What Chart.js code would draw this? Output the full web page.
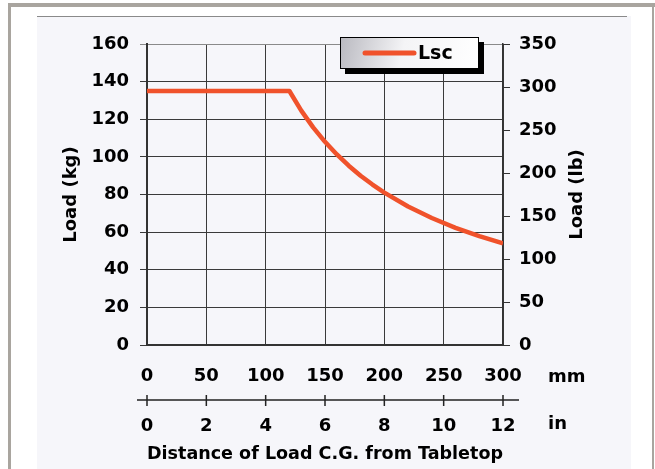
<!DOCTYPE html>
<html>
<head>
<meta charset="utf-8">
<script src="https://cdn.jsdelivr.net/npm/chart.js@4.4.1/dist/chart.umd.min.js"></script>
<style>
  html, body { margin: 0; padding: 0; background: #fff; }
  #wrap { width: 655px; height: 469px; }
</style>
</head>
<body>
<div id="wrap"><canvas id="chart" width="655" height="469"></canvas></div>
<script>
// distance of load C.G. (mm) and rated load (kg)
const distMm = [0, 120, 130, 140, 150, 160, 170, 180, 190, 200, 220, 240, 260, 280, 300];
const loadKg = [135, 135, 124.6, 115.7, 108, 101.3, 95.3, 90, 85.3, 81, 73.6, 67.5, 62.3, 57.9, 54];
const seriesName = "Lsc";
const kgTicks = { min: 0, max: 160, step: 20 };
const lbTicks = { min: 0, max: 350, step: 50 };
const mmTicks = { min: 0, max: 300, step: 50 };
const inTicks = { min: 0, max: 12, step: 2 };

const lineColor = "#f0522b";
const tickFont = { family: "DejaVu Sans", weight: "bold", size: 18 };
const titleFont = { family: "DejaVu Sans", weight: "bold", size: 18 };

const pts = distMm.map((d, i) => ({ x: d, y: loadKg[i] }));

// frame, legend, inch axis line and unit labels
const decor = {
	id: "decor",
	beforeDraw(chart) {
		const ctx = chart.ctx;
		ctx.save();
		ctx.fillStyle = "#fff";
		ctx.fillRect(0, 0, 655, 469);
		ctx.fillStyle = "#a9a59f";
		ctx.fillRect(8, 3, 647, 4);
		ctx.fillRect(8, 3, 3, 466);
		ctx.fillRect(652, 3, 2, 466);
		ctx.fillStyle = "#f6f6fa";
		ctx.fillRect(37, 16, 594, 453);
		ctx.fillStyle = "#8a8a8a";
		ctx.fillRect(37, 16, 590, 1);
		ctx.restore();
	},
	afterDraw(chart) {
		const ctx = chart.ctx;
		const x2 = chart.scales.x2;
		const area = chart.chartArea;
		ctx.save();
		// inch axis
		const yLine = 400;
		ctx.strokeStyle = "#222";
		ctx.lineWidth = 1.5;
		ctx.beginPath();
		ctx.moveTo(x2.left - 10, yLine);
		ctx.lineTo(x2.right + 16, yLine);
		x2.ticks.forEach(t => {
			const px = x2.getPixelForValue(t.value);
			ctx.moveTo(px, yLine - 5);
			ctx.lineTo(px, yLine + 6);
		});
		ctx.stroke();
		// units
		ctx.fillStyle = "#000";
		ctx.font = "bold 18px 'DejaVu Sans'";
		ctx.textBaseline = "middle";
		ctx.textAlign = "left";
		ctx.fillText("mm", 548, 377);
		ctx.fillText("in", 548, 424);
		// right axis title, reading upward
		ctx.save();
		ctx.translate(577, (area.top + area.bottom) / 2);
		ctx.rotate(-Math.PI / 2);
		ctx.textAlign = "center";
		ctx.fillText("Load (lb)", 0, 0);
		ctx.restore();
		// legend box
		const bx = 340, by = 37, bw = 139, bh = 32;
		ctx.fillStyle = "#000";
		ctx.fillRect(bx + 5, by + 5, bw, bh);
		const g = ctx.createLinearGradient(bx, by, bx + bw, by + bh);
		g.addColorStop(0, "#b9b9c0");
		g.addColorStop(0.45, "#f4f4f6");
		g.addColorStop(1, "#ffffff");
		ctx.fillStyle = g;
		ctx.fillRect(bx, by, bw, bh);
		ctx.strokeStyle = "#000";
		ctx.lineWidth = 1;
		ctx.strokeRect(bx + 0.5, by + 0.5, bw - 1, bh - 1);
		ctx.strokeStyle = lineColor;
		ctx.lineWidth = 5;
		ctx.lineCap = "round";
		ctx.beginPath();
		ctx.moveTo(365, 53);
		ctx.lineTo(414, 53);
		ctx.stroke();
		ctx.fillStyle = "#000";
		ctx.font = "bold 19px 'DejaVu Sans'";
		ctx.textAlign = "left";
		ctx.fillText(seriesName, 418, 54);
		ctx.restore();
	}
};

new Chart(document.getElementById("chart"), {
	type: "line",
	data: {
		datasets: [
			{
				label: seriesName,
				data: pts,
				borderColor: lineColor,
				backgroundColor: lineColor,
				borderWidth: 4.5,
				pointRadius: 0,
				tension: 0,
				borderJoinStyle: "round",
			},
		],
	},
	options: {
		responsive: false,
		animation: false,
		layout: { padding: { top: 44, left: 0, right: 0, bottom: 0 } },
		plugins: { legend: { display: false }, tooltip: { enabled: false } },
		scales: {
			x: {
				type: "linear",
				position: "bottom",
				weight: 0,
				min: mmTicks.min,
				max: mmTicks.max,
				ticks: { stepSize: mmTicks.step, padding: 21, font: tickFont, color: "#000", maxRotation: 0 },
				grid: { color: "#3a3a3a", drawTicks: false },
				border: { color: "#333", width: 2 },
				afterFit: s => { s.height = 50; },
			},
			x2: {
				type: "linear",
				position: "bottom",
				weight: 1,
				min: inTicks.min,
				max: inTicks.max,
				ticks: { stepSize: inTicks.step, padding: 13, font: tickFont, color: "#000", maxRotation: 0 },
				grid: { display: false },
				border: { display: false },
				title: {
					display: true,
					text: "Distance of Load C.G. from Tabletop",
					font: titleFont,
					color: "#000",
					padding: { top: 0, bottom: 4 },
				},
				afterFit: s => { s.height = 74; },
			},
			y: {
				position: "left",
				min: kgTicks.min,
				max: kgTicks.max,
				ticks: { stepSize: kgTicks.step, padding: 11, font: tickFont, color: "#000" },
				grid: {
					color: c => (c.tick && c.tick.value === kgTicks.max ? "#8a8a8a" : "#3a3a3a"),
					tickLength: 7,
				},
				border: { color: "#333", width: 2 },
				title: { display: true, text: "Load (kg)", font: titleFont, color: "#000", padding: { top: 61 } },
				afterFit: s => { s.width = 147; },
			},
			y2: {
				position: "right",
				min: lbTicks.min,
				max: lbTicks.max,
				ticks: { stepSize: lbTicks.step, padding: 9, font: tickFont, color: "#000" },
				grid: { drawOnChartArea: false, tickLength: 7, color: "#333" },
				border: { color: "#333", width: 1.5 },
				afterFit: s => { s.width = 152; },
			},
		},
	},
	plugins: [decor],
});
</script>
</body>
</html>
